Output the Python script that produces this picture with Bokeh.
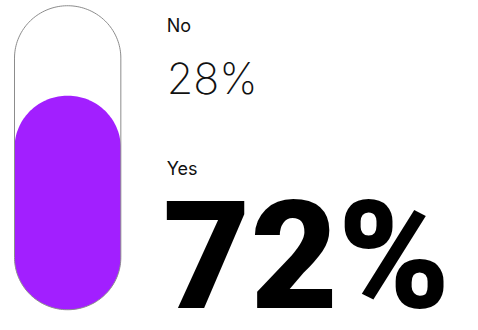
from bokeh.plotting import figure
from bokeh.models import Range1d
from bokeh.core.properties import value
from bokeh.embed import file_html
from bokeh.resources import INLINE
import numpy as np

# ---- data ----
labels = ["No", "Yes"]
values = [28, 72]          # percent
highlight = "Yes"

# ---- layout ----
W, H = 462, 314
SX, SY = W / 478, H / 330          # reference-pixel -> figure-pixel
ZERO_T = 325 * SY                  # figure row of 0 %
FULL_T = 12.5 * SY                 # figure row of 100 %
UNIT = (ZERO_T - FULL_T) / 100     # figure px per percent
y_end = 100 + FULL_T / UNIT
y_start = y_end - H / UNIT

def Y(t):          # figure row -> data y
    return y_end - t / UNIT

p = figure(width=W, height=H, output_backend="svg", toolbar_location=None,
           x_range=Range1d(0, W), y_range=Range1d(y_start, y_end),
           min_border=0, outline_line_color=None)
p.axis.visible = False
p.grid.visible = False

cx = 69.5 * SX
rx = 55 * SX
ry = 55 * SY / UNIT
outline_top = Y(5.5 * SY)

def capsule(bottom, top):
    t1 = np.linspace(np.pi, 2 * np.pi, 80)
    t2 = np.linspace(0, np.pi, 80)
    xs = np.concatenate([cx + rx * np.cos(t1), cx + rx * np.cos(t2)])
    ys = np.concatenate([bottom + ry + ry * np.sin(t1), (top - ry) + ry * np.sin(t2)])
    return xs, ys

yes_val = values[labels.index(highlight)]
no_val = values[labels.index("No")]

fxs, fys = capsule(0, yes_val)
p.patch(fxs, fys, fill_color="#A21FFF", line_color=None)

oxs, oys = capsule(0, outline_top)
p.patch(oxs, oys, fill_color=None, line_color="#8c8c8c", line_width=1)

CORR = 0.36   # baseline correction (fraction of font size)

def put(txt, x_ref, base_ref, size, font, color):
    t = base_ref * SY - CORR * size
    p.text(x=[x_ref * SX], y=[Y(t)], text=[txt],
           text_font=value(font), text_font_size=f"{size}px",
           text_color=color, text_baseline="alphabetic", text_align="left")

label_base = {"No": 33, "Yes": 183}
for lab in labels:
    put(lab, 172, label_base[lab], 18, "Inter", "#111111")

put(f"{no_val}%", 172, 98, 43, "Inter ExtraLight", "#111111")
put(f"{yes_val}%", 168, 326, 151, "Roboto Black", "#000000")

open("out.html", "w").write(file_html(p, INLINE))
